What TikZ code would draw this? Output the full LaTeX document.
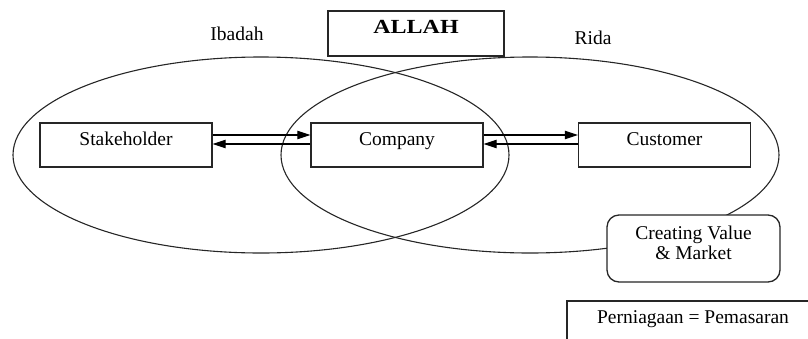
\documentclass[tikz,border=0pt]{standalone}
\usepackage{fontspec}
\setmainfont{Liberation Serif}
\usetikzlibrary{arrows.meta}
\begin{document}
\begin{tikzpicture}[x=0.5pt,y=-0.5pt,
  line/.style={draw=black!85, line width=0.55pt},
  box/.style={draw=black!85, line width=0.65pt, fill=white, inner sep=0pt,
    minimum width=86pt, minimum height=22pt, text height=7pt, text depth=6.3pt,
    font=\fontsize{9.75pt}{10pt}\selectfont},
  lbl/.style={inner sep=0pt, font=\fontsize{9.75pt}{10pt}\selectfont},
  arr/.style={draw=black, line width=0.6pt, -{Triangle[length=6.5pt,width=4.2pt]}}]
\useasboundingbox (0,0) rectangle (808,338);
\clip (0,0) rectangle (808,338);
% ellipses
\draw[line] (261,155) ellipse [x radius=248, y radius=98];
\draw[line] (530,155) ellipse [x radius=249, y radius=98];
% labels
\node[lbl, anchor=base] (ibadah) at (237,40) {Ibadah};
\node[lbl, anchor=base] (rida) at (593,44) {Rida};
% ALLAH
\node[box, minimum width=88pt, minimum height=22.5pt, text height=8pt, text depth=8pt,
  font=\fontsize{10pt}{12pt}\selectfont\bfseries] (allah) at (416,33.5) {\scalebox{1.2}[1]{ALLAH}};
% boxes
\node[box] (stake) at (126,145) {Stakeholder};
\node[box] (company) at (397,145) {Company};
\node[box] (customer) at (664.5,145) {Customer};
% arrows
\draw[arr] ([yshift=5pt]stake.east) -- ([yshift=5pt]company.west);
\draw[arr] ([yshift=0.5pt]company.west) -- ([yshift=0.5pt]stake.east);
\draw[arr] ([yshift=5pt]company.east) -- ([yshift=5pt]customer.west);
\draw[arr] ([yshift=0.5pt]customer.west) -- ([yshift=0.5pt]company.east);
% creating value
\node[box, rounded corners=6pt, minimum width=86.5pt, minimum height=33.5pt] (cv) at (693.5,248.5) {};
\node[lbl, align=center, font=\fontsize{9.75pt}{10pt}\selectfont] (cvtext) at ([yshift=3pt]cv.center) {Creating Value\\\& Market};
% perniagaan
\node[box, minimum width=126pt, minimum height=21.5pt] (pp) at (693,322.5) {Perniagaan = Pemasaran};
\end{tikzpicture}
\end{document}
